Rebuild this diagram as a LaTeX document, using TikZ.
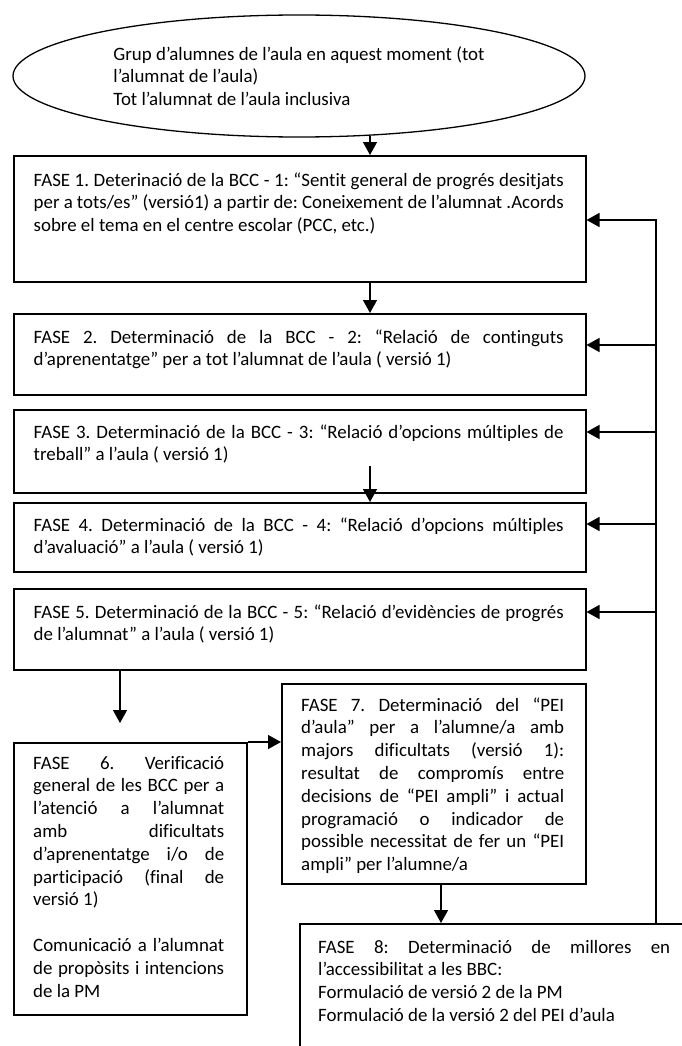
\documentclass[tikz,border=0pt]{standalone}
\usepackage{fontspec}
\setmainfont{Carlito}[Ligatures=NoCommon]
\usetikzlibrary{shapes.geometric,arrows.meta}
\pgfdeclarelayer{back}
\pgfsetlayers{back,main}
\newcommand\fsz{\fontsize{18.9}{22.8}\selectfont\frenchspacing}
\hfuzz=20pt
\hbadness=10000
\tikzset{
  boxnode/.style={draw, line width=1.5pt, fill=white, anchor=north west, inner sep=0pt},
  txt/.style={anchor=base west, inner sep=0pt, align=justify, font=\fsz},
  arr/.style={line width=1.4pt, -{Triangle[length=13pt,width=14pt]}},
}
\begin{document}
\begin{tikzpicture}[x=1pt,y=-1pt]
\useasboundingbox (0,0) rectangle (682,1046);
\fill[white] (0,0) rectangle (682,1046);
\clip (0,0) rectangle (682,1046);

% ellipse
\node[ellipse, draw, line width=1.3pt, minimum width=572pt, minimum height=122pt,
      inner sep=0pt, align=left, font=\fsz] (el) at (299,76)
  {Grup d’alumnes de l’aula en aquest moment (tot\\l’alumnat de l’aula)\\Tot l’alumnat de l’aula inclusiva};

% boxes
\node[boxnode, minimum width=572pt, minimum height=126pt] (f1) at (13,155) {};
\node[boxnode, minimum width=572pt, minimum height=81pt]  (f2) at (13,313) {};
\node[boxnode, minimum width=572pt, minimum height=83pt]  (f3) at (13,409) {};
\node[boxnode, minimum width=572pt, minimum height=69pt]  (f4) at (13,502) {};
\node[boxnode, minimum width=572pt, minimum height=81pt]  (f5) at (13,588) {};
\node[boxnode, minimum width=233pt, minimum height=272pt] (f6) at (13,742) {};
\node[boxnode, minimum width=304pt, minimum height=200pt] (f7) at (281,683) {};
\node[boxnode, minimum width=420pt, minimum height=160pt] (f8) at (299,923) {};

% texts
\node[txt, text width=530pt] (t1) at (33.5,186)
  {FASE 1. Deterinació de la BCC - 1: “Sentit general de progrés desitjats\linebreak
   per a tots/es” (versió1) a partir de: Coneixement de l’alumnat .Acords\linebreak
   sobre el tema en el centre escolar (PCC, etc.)};
\node[txt, text width=530pt] (t2) at (33.5,343)
  {FASE 2. Determinació de la BCC - 2: “Relació de continguts\linebreak
   d’aprenentatge” per a tot l’alumnat de l’aula ( versió 1)};
\node[txt, text width=530pt] (t3) at (33.5,438)
  {FASE 3. Determinació de la BCC - 3: “Relació d’opcions múltiples de\linebreak
   treball” a l’aula ( versió 1)};
\node[txt, text width=530pt] (t4) at (33.5,531)
  {FASE 4. Determinació de la BCC - 4: “Relació d’opcions múltiples\linebreak
   d’avaluació” a l’aula ( versió 1)};
\node[txt, text width=530pt] (t5) at (33.5,618)
  {FASE 5. Determinació de la BCC - 5: “Relació d’evidències de progrés\linebreak
   de l’alumnat” a l’aula ( versió 1)};
\node[txt, text width=191pt] (t6) at (33,769)
  {FASE 6. Verificació\linebreak
   general de les BCC per a\linebreak
   l’atenció a l’alumnat\linebreak
   amb dificultats\linebreak
   d’aprenentatge i/o de\linebreak
   participació (final de\linebreak
   versió 1)\par\mbox{}\par
   Comunicació a l’alumnat\linebreak
   de propòsits i intencions\linebreak
   de la PM};
\node[txt, text width=263pt] (t7) at (301,711)
  {FASE 7. Determinació del “PEI\linebreak
   d’aula” per a l’alumne/a amb\linebreak
   majors dificultats (versió 1):\linebreak
   resultat de compromís entre\linebreak
   decisions de “PEI ampli” i actual\linebreak
   programació o indicador de\linebreak
   possible necessitat de fer un “PEI\linebreak
   ampli” per l’alumne/a};
\node[txt, text width=352pt] (t8) at (318,953)
  {FASE 8: Determinació de millores en\linebreak
   l’accessibilitat a les BBC:\par
   Formulació de versió 2 de la PM\par
   Formulació de la versió 2 del PEI d’aula};

% helper coordinates
\coordinate (xa) at (370,0);
\coordinate (s34) at (370,466);
\coordinate (t45) at (371,600);
\coordinate (t56) at (120,723);
\coordinate (x78) at (441,0);
\coordinate (fb) at (656,220);
\coordinate (b2) at (656,345);
\coordinate (b3) at (656,432);
\coordinate (b4) at (656,524);
\coordinate (b5) at (656,612);

% connectors
\draw[arr] (el.-39.7 -| xa) -- (f1.north -| xa);
\draw[arr] (f1.south -| xa) -- (f2.north -| xa);
\draw[arr] (s34) -- (s34 |- f4.north);
\begin{pgfonlayer}{back}
\draw[arr] (f4.south -| t45) -- (t45);
\end{pgfonlayer}
\draw[arr] (f5.south -| t56) -- (t56);
\draw[arr] (f6.north east) -- (f6.north east -| f7.west);
\draw[arr] (f7.south -| x78) -- (f8.north -| x78);
\draw[arr] (f8.north -| fb) -- (fb) -- (fb -| f1.east);
\draw[arr] (b2) -- (b2 -| f2.east);
\draw[arr] (b3) -- (b3 -| f3.east);
\draw[arr] (b4) -- (b4 -| f4.east);
\draw[arr] (b5) -- (b5 -| f5.east);
\end{tikzpicture}
\end{document}
